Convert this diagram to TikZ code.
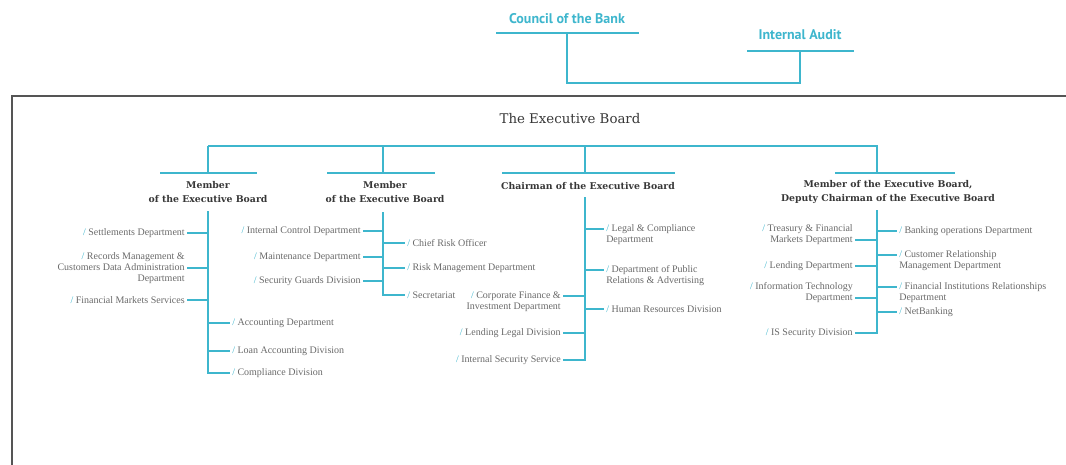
\documentclass[tikz,border=0pt]{standalone}
\usepackage{fontspec}
\newfontfamily\slabfont{DejaVu Serif}
\newfontfamily\councilfont{PT Sans}
\newfontfamily\deptfont{Liberation Serif}
\definecolor{bankcyan}{RGB}{62,182,205}
\definecolor{headgray}{RGB}{55,55,55}
\definecolor{deptgray}{RGB}{105,105,105}
\definecolor{framegray}{RGB}{85,85,85}
\newcommand{\dslash}{{\color{bankcyan}/}~}

\begin{document}
\begin{tikzpicture}[
            x=0.75pt, y=-0.75pt,
            every node/.style={inner sep=1.5pt}
        ]

        % Define styles for nodes
        \tikzset{
            council/.style={font={\councilfont\bfseries\fontsize{10.5}{12}\selectfont}, text=bankcyan},
            board/.style={font={\slabfont\fontsize{10}{12}\selectfont}, text=headgray},
            member/.style={align=center, font={\slabfont\bfseries\fontsize{7}{10.5}\selectfont}, text=headgray},
            deptleft/.style={anchor=east, align=right, font={\deptfont\fontsize{7.5}{8.25}\selectfont}, text=deptgray},
            deptright/.style={anchor=west, align=left, font={\deptfont\fontsize{7.5}{8.25}\selectfont}, text=deptgray},
            bar/.style={draw=bankcyan, line width=1.5pt},
            link/.style={draw=bankcyan, line width=1.1pt},
            frame/.style={draw=framegray, line width=1.5pt}
        }

        \useasboundingbox (0,0) rectangle (1066,464);

        % Council and audit
        \node[council] (council) at (567,19) {Council of the Bank};
        \node[council] (audit) at (800,35) {Internal Audit};
        \draw[bar] (496,33) -- (639,33);
        \draw[bar] (747,51) -- (854,51);
        \coordinate (councilbar) at (567,33);
        \coordinate (auditbar) at (800,51);
        \draw[link] (councilbar) -- ++(0,50) -| (auditbar);

        % Frame of the board
        \draw[frame] (12,470) -- (12,96) -- (1070,96);
        \node[board] (board) at (570,119) {The Executive Board};

        % Level 1: members of the board
        \coordinate (mainbar) at (570,146);
        \draw[bar] (208,146) -- (878,146);
        \draw[bar] (160,172.5) -- (257,172.5);
        \draw[bar] (327,172.5) -- (435,172.5);
        \draw[bar] (502,172.5) -- (675,172.5);
        \draw[bar] (835,172.5) -- (955,172.5);
        \coordinate (m1bar) at (208,172.5);
        \coordinate (m2bar) at (383,172.5);
        \coordinate (chbar) at (585,172.5);
        \coordinate (dpbar) at (877,172.5);
        \foreach \b in {m1bar, m2bar, chbar, dpbar}
            \draw[link] (\b) -- (\b |- mainbar);

        \node[member] (member1) at (208,192) {Member\\of the Executive Board};
        \node[member] (member2) at (385,192) {Member\\of the Executive Board};
        \node[member] (chairman) at (588,186) {Chairman of the Executive Board};
        \node[member] (deputy) at (888,192) {Member of the Executive Board,\\Deputy Chairman of the Executive Board};

        \coordinate (m1trunk) at (208,211);
        \coordinate (m2trunk) at (383,212);
        \coordinate (chtrunk) at (585,197);
        \coordinate (dptrunk) at (877,210);

        % Level 2: first member
        \node[deptleft] (settlements) at (187,233) {\dslash Settlements Department};
        \node[deptleft] (records) at (187,268) {\dslash Records Management \&\\Customers Data Administration\\Department};
        \node[deptleft] (finmarkets) at (187,300) {\dslash Financial Markets Services};
        \node[deptright] (accounting) at (230,323) {\dslash Accounting Department};
        \node[deptright] (loanacc) at (230,351) {\dslash Loan Accounting Division};
        \node[deptright] (compliance) at (230,373) {\dslash Compliance Division};
        \foreach \d in {settlements, records, finmarkets}
            \draw[link] (m1trunk) |- (\d.east);
        \foreach \d in {accounting, loanacc, compliance}
            \draw[link] (m1trunk) |- (\d.west);

        % Level 2: second member
        \node[deptleft] (intcontrol) at (363,231) {\dslash Internal Control Department};
        \node[deptleft] (maintenance) at (363,257) {\dslash Maintenance Department};
        \node[deptleft] (guards) at (363,281) {\dslash Security Guards Division};
        \node[deptright] (riskofficer) at (405,243) {\dslash Chief Risk Officer};
        \node[deptright] (riskmgmt) at (405,268) {\dslash Risk Management Department};
        \node[deptright] (secretariat) at (405,295) {\dslash Secretariat};
        \foreach \d in {intcontrol, maintenance, guards}
            \draw[link] (m2trunk) |- (\d.east);
        \foreach \d in {riskofficer, riskmgmt, secretariat}
            \draw[link] (m2trunk) |- (\d.west);

        % Level 2: chairman
        \node[deptright] (legal) at (604,234.5) {\dslash Legal \& Compliance\\Department};
        \node[deptright] (publicrel) at (604,275.5) {\dslash Department of Public\\Relations \& Advertising};
        \node[deptright] (humanres) at (604,309) {\dslash Human Resources Division};
        \node[deptleft] (corpfin) at (563,301.5) {\dslash Corporate Finance \&\\Investment Department};
        \node[deptleft] (lendlegal) at (563,333) {\dslash Lending Legal Division};
        \node[deptleft] (intsecurity) at (563,360) {\dslash Internal Security Service};
        \draw[link] (chtrunk) |- ([yshift=4.125pt]legal.west);
        \draw[link] (chtrunk) |- ([yshift=4.125pt]publicrel.west);
        \draw[link] (chtrunk) |- (humanres.west);
        \draw[link] (chtrunk) |- ([yshift=4.125pt]corpfin.east);
        \draw[link] (chtrunk) |- (lendlegal.east);
        \draw[link] (chtrunk) |- (intsecurity.east);

        % Level 2: deputy chairman
        \node[deptleft] (treasury) at (855,234.5) {\dslash Treasury \& Financial\\Markets Department};
        \node[deptleft] (lending) at (855,266) {\dslash Lending Department};
        \node[deptleft] (itdept) at (855,292.5) {\dslash Information Technology\\Department};
        \node[deptleft] (issecurity) at (855,333) {\dslash IS Security Division};
        \node[deptright] (banking) at (897,231) {\dslash Banking operations Department};
        \node[deptright] (custrel) at (897,260.5) {\dslash Customer Relationship\\Management Department};
        \node[deptright] (finrel) at (897,292.5) {\dslash Financial Institutions Relationships\\Department};
        \node[deptright] (netbanking) at (897,312) {\dslash NetBanking};
        \draw[link] (dptrunk) |- ([yshift=-4.125pt]treasury.east);
        \draw[link] (dptrunk) |- (lending.east);
        \draw[link] (dptrunk) |- ([yshift=-4.125pt]itdept.east);
        \draw[link] (dptrunk) |- (issecurity.east);
        \draw[link] (dptrunk) |- (banking.west);
        \draw[link] (dptrunk) |- ([yshift=4.125pt]custrel.west);
        \draw[link] (dptrunk) |- ([yshift=4.125pt]finrel.west);
        \draw[link] (dptrunk) |- (netbanking.west);

\end{tikzpicture}
\end{document}
